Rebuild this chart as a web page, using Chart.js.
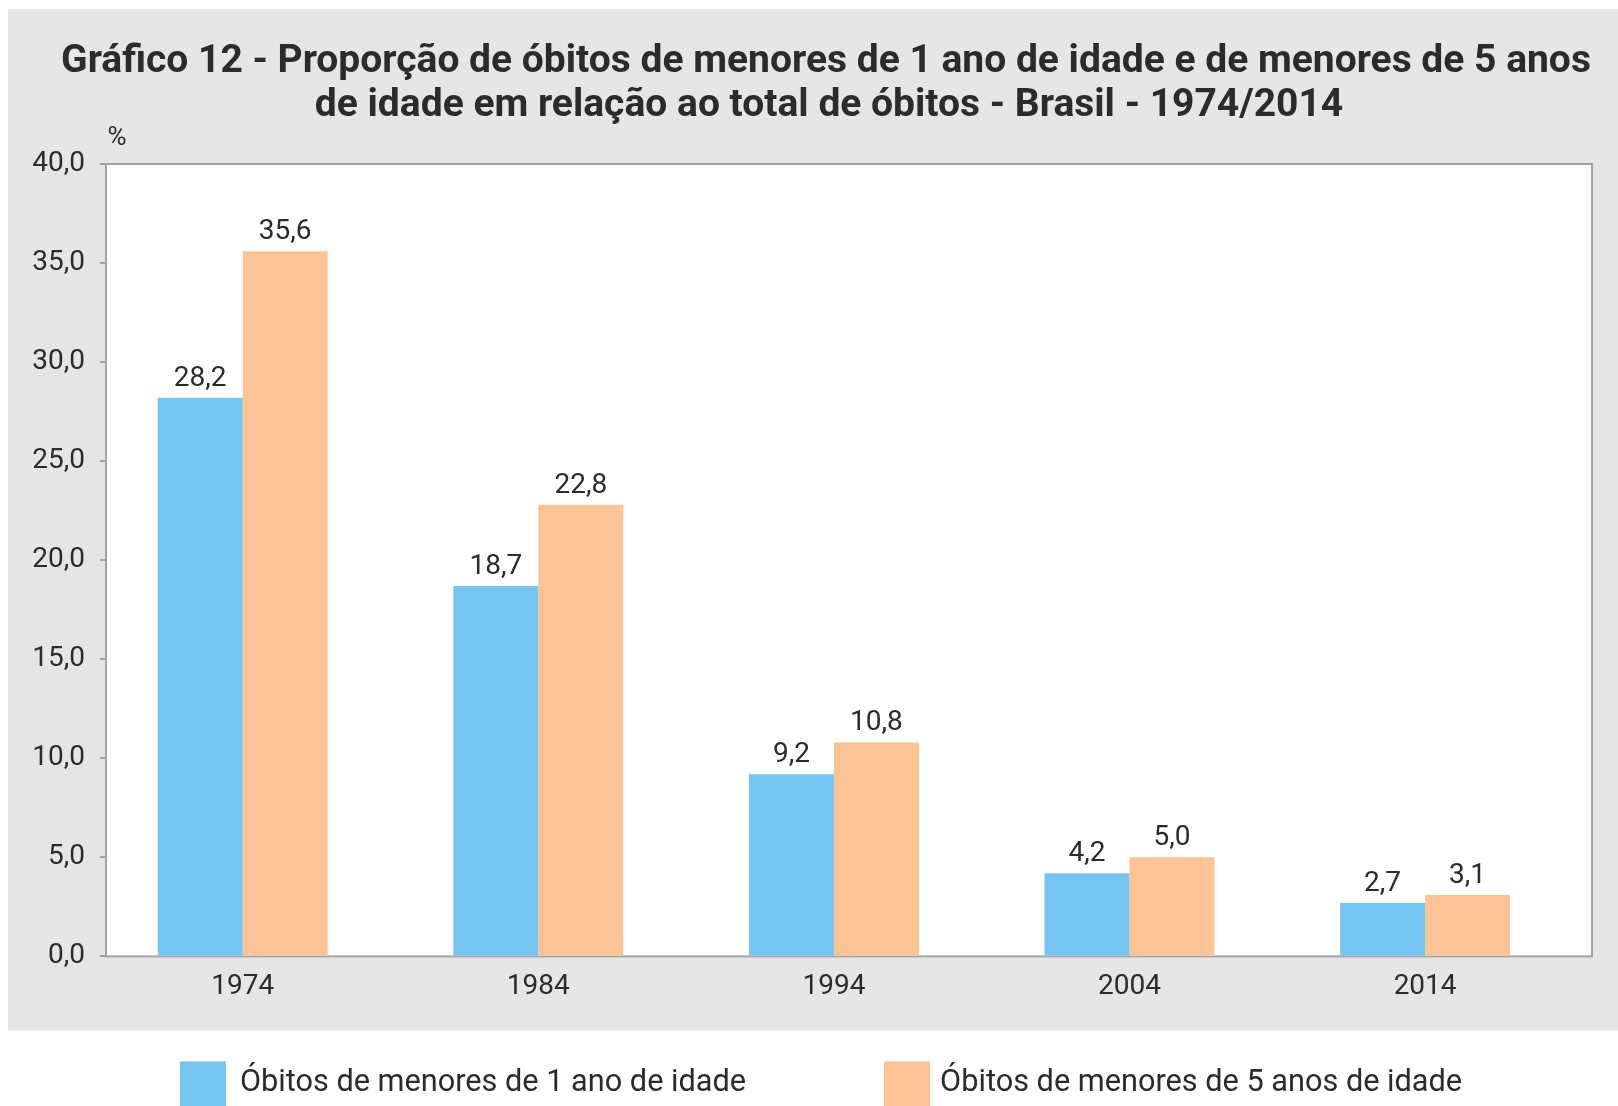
<!DOCTYPE html>
<html><head><meta charset="utf-8">
<script src="https://cdn.jsdelivr.net/npm/chart.js@4/dist/chart.umd.min.js"></script>
<style>html,body{margin:0;padding:0;background:#fff;overflow:hidden}#wrap{width:1618px;height:1106px;position:relative}</style>
</head><body><div id="wrap"><canvas id="c" width="1618" height="1106"></canvas></div>
<script>
const years = ['1974', '1984', '1994', '2004', '2014'];
const under1 = [28.2, 18.7, 9.2, 4.2, 2.7];
const under5 = [35.6, 22.8, 10.8, 5.0, 3.1];
const yTickValues = [0, 5, 10, 15, 20, 25, 30, 35, 40];
const seriesNames = ['Óbitos de menores de 1 ano de idade', 'Óbitos de menores de 5 anos de idade'];
const titleLines = ['Gráfico 12 - Proporção de óbitos de menores de 1 ano de idade e de menores de 5 anos', 'de idade em relação ao total de óbitos - Brasil - 1974/2014'];
const unitLabel = '%';

const FONT = 'Roboto';
const TEXT = '#2b2b2b';
const AXIS = '#a3a3a3';
const BLUE = '#76c4f0';
const ORANGE = '#fcc397';
const CENTER_X = 826;
const fmt = v => v.toFixed(1).replace('.', ',');

const bgPlugin = {
  id: 'bg',
  beforeDraw(chart) {
    const {ctx, chartArea: a} = chart;
    ctx.save();
    ctx.fillStyle = '#e6e6e6';
    ctx.fillRect(8, 9, chart.width - 8, a.bottom + 74 - 9);
    ctx.fillStyle = '#ffffff';
    ctx.fillRect(a.left, a.top, a.right - a.left, a.bottom - a.top);
    ctx.strokeStyle = AXIS;
    ctx.lineWidth = 2;
    ctx.strokeRect(a.left, a.top, a.right - a.left, a.bottom - a.top);
    // title
    ctx.font = 'bold 39px ' + FONT;
    ctx.fillStyle = TEXT;
    ctx.textAlign = 'center';
    ctx.textBaseline = 'middle';
    ctx.fillText(titleLines[0], CENTER_X, 62);
    ctx.fillText(titleLines[1], CENTER_X + 3, 106);
    ctx.restore();
  }
};

const labelsPlugin = {
  id: 'vals',
  afterDatasetsDraw(chart) {
    const {ctx} = chart;
    ctx.save();
    ctx.font = '28px ' + FONT;
    ctx.fillStyle = TEXT;
    ctx.textAlign = 'center';
    ctx.textBaseline = 'alphabetic';
    chart.data.datasets.forEach((ds, di) => {
      chart.getDatasetMeta(di).data.forEach((el, i) => {
        ctx.fillText(fmt(ds.data[i].y), el.x, el.y - 12);
      });
    });
    ctx.restore();
  }
};

const extrasPlugin = {
  id: 'extras',
  afterDraw(chart) {
    const {ctx, chartArea: a} = chart;
    ctx.save();
    ctx.font = '26px ' + FONT;
    ctx.fillStyle = TEXT;
    ctx.textAlign = 'center';
    ctx.textBaseline = 'middle';
    ctx.fillText(unitLabel, a.left + 11, a.top - 26);
    // legend
    ctx.font = '30.7px ' + FONT;
    const box = 46, gapText = [14, 10], gapItem = 138;
    const widths = chart.data.datasets.map(ds => ctx.measureText(ds.label).width);
    const total = widths.reduce((s, w, i) => s + box + gapText[i] + w, 0) + gapItem * (widths.length - 1);
    let x = CENTER_X - 5 - total / 2;
    const top = a.bottom + 105;
    ctx.textAlign = 'left';
    chart.data.datasets.forEach((ds, i) => {
      ctx.fillStyle = ds.backgroundColor;
      ctx.fillRect(x, top, box, box);
      ctx.fillStyle = TEXT;
      ctx.fillText(ds.label, x + box + gapText[i], top + box / 2 - 1);
      x += box + gapText[i] + widths[i] + gapItem;
    });
    ctx.restore();
  }
};

new Chart(document.getElementById('c'), {
  type: 'bar',
  data: {
    datasets: [
      {label: seriesNames[0], data: under1.map((v, i) => ({x: i, y: v})), backgroundColor: BLUE, borderWidth: 0},
      {label: seriesNames[1], data: under5.map((v, i) => ({x: i, y: v})), backgroundColor: ORANGE, borderWidth: 0}
    ]
  },
  options: {
    responsive: false,
    animation: false,
    devicePixelRatio: 1,
    categoryPercentage: 0.575,
    barPercentage: 1,
    layout: {padding: {left: 8, right: 26, top: 164, bottom: 88}},
    plugins: {
      legend: {display: false},
      tooltip: {enabled: false},
      title: {display: false}
    },
    scales: {
      x: {
        type: 'linear',
        offset: false,
        bounds: 'data',
        min: -0.4625,
        max: 4.5646,
        afterBuildTicks: s => { s.ticks = years.map((_, i) => ({value: i})); },
        grid: {display: false, drawTicks: false},
        border: {display: false},
        ticks: {
          autoSkip: false, maxRotation: 0, padding: 14,
          color: TEXT, font: {family: FONT, size: 28},
          callback: v => years[v]
        }
      },
      y: {
        min: 0,
        max: 40,
        afterBuildTicks: s => { s.ticks = yTickValues.map(v => ({value: v})); },
        afterFit: s => { s.width = 98; },
        grid: {drawOnChartArea: false, drawTicks: true, tickLength: 6, color: AXIS, lineWidth: 2},
        border: {display: false},
        ticks: {
          padding: 15,
          color: TEXT, font: {family: FONT, size: 28},
          callback: v => fmt(v)
        }
      }
    }
  },
  plugins: [bgPlugin, labelsPlugin, extrasPlugin]
});
</script></body></html>
